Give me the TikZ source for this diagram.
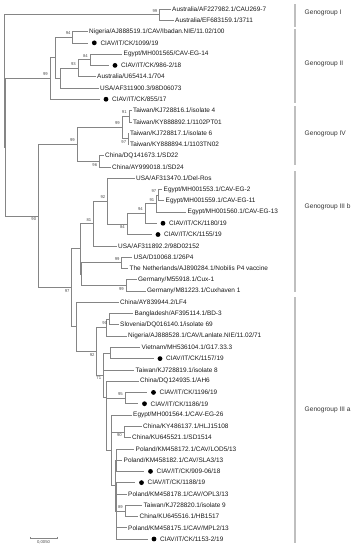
\documentclass[tikz,border=0pt]{standalone}
\usepackage{fontspec}
\setmainfont{Liberation Sans}
\newcommand\myleaf[4]{\coordinate (#1) at (#2,#3); \node[lf] (t#1) at (#2+1.5,#3) {#4};}
\newcommand\mydleaf[4]{\coordinate (#1) at (#2,#3); \node[dot] (d#1) at (#2+6.5,#3) {}; \node[lf] (t#1) at (#2+12.5,#3) {#4};}
\begin{document}
\begin{tikzpicture}[x=1pt,y=-1pt,
  br/.style={draw=black!48, line width=0.55pt},
  lf/.style={anchor=west, inner sep=0pt, font=\fontsize{6.45}{7.5}\selectfont, text=black!90},
  bs/.style={inner sep=0pt, font=\fontsize{4.2}{5}\selectfont, text=black!70},
  bsa/.style={bs, anchor=south east, xshift=-2pt, yshift=2.2pt},
  bsb/.style={bs, anchor=north east, xshift=-2pt, yshift=-1.8pt},
  dot/.style={circle, fill=black, inner sep=0pt, minimum size=4.8pt},
  gbar/.style={draw=black!25, line width=1.5pt},
  glab/.style={anchor=west, inner sep=0pt, font=\fontsize{6.6}{8}\selectfont, text=black!80}]
\useasboundingbox (0,0) rectangle (356,550);
% internal nodes
\coordinate (R) at (4.3,80.9);
\coordinate (GI) at (159.5,14.64);
\coordinate (X) at (5.7,147.2);
\coordinate (GII) at (50,78.43);
\coordinate (nY) at (55,57.63);
\coordinate (n94) at (72.7,37.19);
\coordinate (nX) at (60,78.07);
\coordinate (n93) at (78,68.21);
\coordinate (n84) at (90,59.75);
\coordinate (A) at (38.3,216.0);
\coordinate (nIV) at (77,144.33);
\coordinate (n99a) at (122,127.41);
\coordinate (n91) at (128.8,116.13);
\coordinate (n97) at (128.3,138.69);
\coordinate (n96) at (99.3,161.24);
\coordinate (n97c) at (71.7,287.7);
\coordinate (nB) at (80,248.73);
\coordinate (n81) at (93.5,223.45);
\coordinate (n92) at (107.5,201.07);
\coordinate (n84b) at (127,223.97);
\coordinate (n94b) at (145,213.40);
\coordinate (n91b) at (156.5,203.53);
\coordinate (n97b) at (158.5,195.07);
\coordinate (nD) at (81.7,274.01);
\coordinate (n99d) at (121.7,262.73);
\coordinate (n99g) at (126,285.29);
\coordinate (nC) at (76.7,326.75);
\coordinate (nE) at (96.7,351.3);
\coordinate (nN) at (106.7,327.58);
\coordinate (n90a) at (109.3,319.12);
\coordinate (nF) at (103.3,375.0);
\coordinate (nV) at (110,352.95);
\coordinate (nG) at (106,397.0);
\coordinate (n95) at (125,398.06);
\coordinate (nH) at (111.7,450.22);
\coordinate (n90b) at (124,431.89);
\coordinate (nK) at (115,485.46);
\coordinate (nM) at (116.7,460.08);
\coordinate (nL) at (116.7,510.83);
\coordinate (n89) at (125,510.83);
% leaves
\myleaf{l1}{170.5}{9.0}{Australia/AF227982.1/CAU269-7}
\myleaf{l2}{173.5}{20.28}{Australia/EF683159.1/3711}
\myleaf{l3}{87.5}{31.55}{Nigeria/AJ888519.1/CAV/Ibadan.NIE/11.02/100}
\mydleaf{l4}{87.8}{42.83}{CIAV/IT/CK/1099/19}
\myleaf{l5}{122}{54.11}{Egypt/MH001565/CAV-EG-14}
\mydleaf{l6}{108.5}{65.39}{CIAV/IT/CK/986-2/18}
\myleaf{l7}{95.5}{76.66}{Australia/U65414.1/704}
\myleaf{l8}{98.5}{87.94}{USA/AF311900.3/98D06073}
\mydleaf{l9}{99.5}{99.22}{CIAV/IT/CK/855/17}
\myleaf{l10}{131.5}{110.49}{Taiwan/KJ728816.1/isolate 4}
\myleaf{l11}{131.5}{121.77}{Taiwan/KY888892.1/1102PT01}
\myleaf{l12}{128.5}{133.05}{Taiwan/KJ728817.1/isolate 6}
\myleaf{l13}{128.5}{144.32}{Taiwan/KY888894.1/1103TN02}
\myleaf{l14}{103.5}{155.60}{China/DQ141673.1/SD22}
\myleaf{l15}{110.5}{166.88}{China/AY999018.1/SD24}
\myleaf{l16}{134.5}{178.16}{USA/AF313470.1/Del-Ros}
\myleaf{l17}{162}{189.43}{Egypt/MH001553.1/CAV-EG-2}
\myleaf{l18}{164}{200.71}{Egypt/MH001559.1/CAV-EG-11}
\myleaf{l19}{186}{211.99}{Egypt/MH001560.1/CAV-EG-13}
\mydleaf{l20}{156.5}{223.26}{CIAV/IT/CK/1180/19}
\mydleaf{l21}{151.5}{234.54}{CIAV/IT/CK/1155/19}
\myleaf{l22}{116.5}{245.82}{USA/AF311892.2/98D02152}
\myleaf{l23}{132}{257.09}{USA/D10068.1/26P4}
\myleaf{l24}{128}{268.37}{The Netherlands/AJ890284.1/Nobilis P4 vaccine}
\myleaf{l25}{136.5}{279.65}{Germany/M55918.1/Cux-1}
\myleaf{l26}{145.5}{290.93}{Germany/M81223.1/Cuxhaven 1}
\myleaf{l27}{118.5}{302.20}{China/AY839944.2/LF4}
\myleaf{l28}{133}{313.48}{Bangladesh/AF395114.1/BD-3}
\myleaf{l29}{118.5}{324.76}{Slovenia/DQ016140.1/isolate 69}
\myleaf{l30}{126.5}{336.03}{Nigeria/AJ888528.1/CAV/Lanlate.NIE/11.02/71}
\myleaf{l31}{140}{347.31}{Vietnam/MH536104.1/G17.33.3}
\mydleaf{l32}{153.5}{358.59}{CIAV/IT/CK/1157/19}
\myleaf{l33}{134}{369.86}{Taiwan/KJ728819.1/isolate 8}
\myleaf{l34}{138.5}{381.14}{China/DQ124935.1/AH6}
\mydleaf{l35}{147}{392.42}{CIAV/IT/CK/1196/19}
\mydleaf{l36}{138}{403.70}{CIAV/IT/CK/1186/19}
\myleaf{l37}{131.5}{414.97}{Egypt/MH001564.1/CAV-EG-26}
\myleaf{l38}{141.5}{426.25}{China/KY486137.1/HLJ15108}
\myleaf{l39}{130.5}{437.53}{China/KU645521.1/SD1514}
\myleaf{l40}{134}{448.80}{Poland/KM458172.1/CAV/LOD5/13}
\myleaf{l41}{122}{460.08}{Poland/KM458182.1/CAV/SLA3/13}
\mydleaf{l42}{144}{471.36}{CIAV/IT/CK/909-06/18}
\mydleaf{l43}{135}{482.63}{CIAV/IT/CK/1188/19}
\myleaf{l44}{126.5}{493.91}{Poland/KM458178.1/CAV/OPL3/13}
\myleaf{l45}{142}{505.19}{Taiwan/KJ728820.1/isolate 9}
\myleaf{l46}{138}{516.47}{China/KU645516.1/HB1517}
\myleaf{l47}{126.5}{527.74}{Poland/KM458175.1/CAV/MPL2/13}
\mydleaf{l48}{147.5}{539.02}{CIAV/IT/CK/1153-2/19}
% branches
\draw[br] (R) |- (GI); \draw[br] (R) |- (X);
\draw[br] (GI) |- (l1); \draw[br] (GI) |- (l2);
\draw[br] (X) |- (GII); \draw[br] (X) |- (A);
\draw[br] (GII) |- (nY); \draw[br] (GII) |- (l9);
\draw[br] (nY) |- (n94); \draw[br] (nY) |- (nX);
\draw[br] (n94) |- (l3); \draw[br] (n94) |- (l4);
\draw[br] (nX) |- (n93); \draw[br] (nX) |- (l8);
\draw[br] (n93) |- (n84); \draw[br] (n93) |- (l7);
\draw[br] (n84) |- (l5); \draw[br] (n84) |- (l6);
\draw[br] (A) |- (nIV); \draw[br] (A) |- (n97c);
\draw[br] (nIV) |- (n99a); \draw[br] (nIV) |- (n96);
\draw[br] (n99a) |- (n91); \draw[br] (n99a) |- (n97);
\draw[br] (n91) |- (l10); \draw[br] (n91) |- (l11);
\draw[br] (n97) |- (l12); \draw[br] (n97) |- (l13);
\draw[br] (n96) |- (l14); \draw[br] (n96) |- (l15);
\draw[br] (n97c) |- (nB); \draw[br] (n97c) |- (nC);
\draw[br] (nB) |- (n81); \draw[br] (nB) |- (nD);
\draw[br] (n81) |- (n92); \draw[br] (n81) |- (l22);
\draw[br] (n92) |- (l16); \draw[br] (n92) |- (n84b);
\draw[br] (n84b) |- (n94b); \draw[br] (n84b) |- (l21);
\draw[br] (n94b) |- (n91b); \draw[br] (n94b) |- (l20);
\draw[br] (n91b) |- (n97b); \draw[br] (n91b) |- (l19);
\draw[br] (n97b) |- (l17); \draw[br] (n97b) |- (l18);
\draw[br] (nD) |- (n99d); \draw[br] (nD) |- (n99g);
\draw[br] (n99d) |- (l23); \draw[br] (n99d) |- (l24);
\draw[br] (n99g) |- (l25); \draw[br] (n99g) |- (l26);
\draw[br] (nC) |- (l27); \draw[br] (nC) |- (nE);
\draw[br] (nE) |- (nN); \draw[br] (nE) |- (nF);
\draw[br] (nN) |- (n90a); \draw[br] (nN) |- (l30);
\draw[br] (n90a) |- (l28); \draw[br] (n90a) |- (l29);
\draw[br] (nF) |- (nV); \draw[br] (nF) |- (l33); \draw[br] (nF) |- (nG);
\draw[br] (nV) |- (l31); \draw[br] (nV) |- (l32);
\draw[br] (nG) |- (l34); \draw[br] (nG) |- (n95); \draw[br] (nG) |- (nH);
\draw[br] (n95) |- (l35); \draw[br] (n95) |- (l36);
\draw[br] (nH) |- (l37); \draw[br] (nH) |- (n90b); \draw[br] (nH) |- (nK);
\draw[br] (n90b) |- (l38); \draw[br] (n90b) |- (l39);
\draw[br] (nK) |- (nM); \draw[br] (nK) |- (nL);
\draw[br] (nM) |- (l40); \draw[br] (nM) |- (l41); \draw[br] (nM) |- (l42);
\draw[br] (nL) |- (l43); \draw[br] (nL) |- (l44); \draw[br] (nL) |- (n89); \draw[br] (nL) |- (l47); \draw[br] (nL) |- (l48);
\draw[br] (n89) |- (l45); \draw[br] (n89) |- (l46);
% bootstrap values
\node[bsa] (bGI) at (GI) {99};
\node[bsa] (bn94) at (n94) {94};
\node[bsa] (bn84) at (n84) {84};
\node[bsa] (bn93) at (n93) {93};
\node[bsa] (bGII) at (GII) {99};
\node[bsa] (bn91) at (n91) {91};
\node[bsb] (bn97) at (n97) {97};
\node[bsa] (bn99a) at (n99a) {99};
\node[bsb] (bn96) at (n96) {96};
\node[bsa] (bnIV) at (nIV) {99};
\node[bsa] (bn97b) at (n97b) {97};
\node[bsa] (bn91b) at (n91b) {91};
\node[bsa] (bn94b) at (n94b) {94};
\node[bsb] (bn84b) at (n84b) {84};
\node[bsa] (bn92) at (n92) {92};
\node[bsa] (bn81) at (n81) {81};
\node[bsa] (bn99d) at (n99d) {99};
\node[bsb] (bn99g) at (n99g) {99};
\node[bsb] (bn97c) at (n97c) {97};
\node[bsb] (bA) at (A) {90};
\node[bsb] (bn90a) at (n90a) {90};
\node[bsb] (bnE) at (nE) {92};
\node[bsb] (bnF) at (nF) {71};
\node[bsa] (bn95) at (n95) {95};
\node[bsb] (bn90b) at (n90b) {90};
\node[bsa] (bn89) at (n89) {89};
% genogroup bars
\coordinate (g1a) at (295,4); \coordinate (g1b) at (295,27);
\coordinate (g2a) at (295,29); \coordinate (g2b) at (295,103);
\coordinate (g4a) at (295,106); \coordinate (g4b) at (295,165);
\coordinate (g3ba) at (295,171); \coordinate (g3bb) at (295,292);
\coordinate (g3aa) at (295,297); \coordinate (g3ab) at (295,543);
\draw[gbar] (g1a) -- (g1b);
\draw[gbar] (g2a) -- (g2b);
\draw[gbar] (g4a) -- (g4b);
\draw[gbar] (g3ba) -- (g3bb);
\draw[gbar] (g3aa) -- (g3ab);
\node[glab] (G1) at (304.5,13) {Genogroup I};
\node[glab] (G2) at (304.5,64) {Genogroup II};
\node[glab] (G4) at (304.5,134) {Genogroup IV};
\node[glab] (G3b) at (304.5,207) {Genogroup III b};
\node[glab] (G3a) at (304.5,410) {Genogroup III a};
% scale bar
\coordinate (s1) at (30,538); \coordinate (s2) at (57,538);
\draw[br] (s1) -- (s2);
\draw[br] ([yshift=1.2pt]s1) -- ([yshift=-1.2pt]s1);
\draw[br] ([yshift=1.2pt]s2) -- ([yshift=-1.2pt]s2);
\node[bs, anchor=north] (sl) at (43.5,540.5) {0,0050};
\end{tikzpicture}
\end{document}
